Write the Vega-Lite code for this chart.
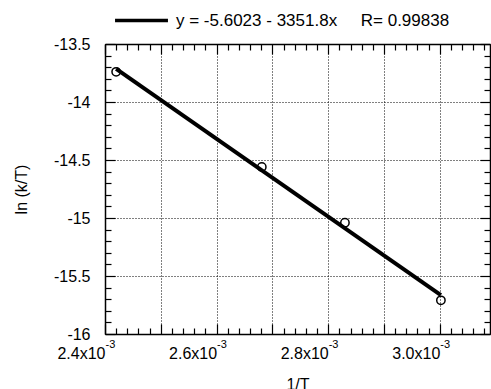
{
  "$schema": "https://vega.github.io/schema/vega-lite/v6.json",
  "width": 385,
  "height": 290,
  "autosize": {"type": "none"},
  "padding": {"left": 105, "top": 44, "right": 1, "bottom": 55},
  "background": "white",
  "config": {
    "view": {"stroke": null},
    "font": "Liberation Sans",
    "axis": {
      "domainColor": "black",
      "domainWidth": 1.5,
      "tickColor": "black",
      "tickWidth": 1.2,
      "gridColor": "black",
      "gridDash": [1, 2],
      "gridWidth": 1,
      "labelColor": "black",
      "labelFont": "Liberation Sans",
      "labelFontSize": 16,
      "titleColor": "black",
      "titleFont": "Liberation Sans",
      "titleFontSize": 16,
      "titleFontWeight": "normal"
    }
  },
  "datasets": {
    "pts": [
      {"invT": 0.00242, "lnkT": -13.74},
      {"invT": 0.002681, "lnkT": -14.56},
      {"invT": 0.00283, "lnkT": -15.04},
      {"invT": 0.003002, "lnkT": -15.71}
    ],
    "fit": [
      {"invT": 0.00242, "lnkT": -13.714, "series": "y = -5.6023 - 3351.8x\u00a0\u00a0\u00a0\u00a0\u00a0R= 0.99838"},
      {"invT": 0.003002, "lnkT": -15.664, "series": "y = -5.6023 - 3351.8x\u00a0\u00a0\u00a0\u00a0\u00a0R= 0.99838"}
    ]
  },
  "resolve": {"axis": {"x": "independent", "y": "independent"}},
  "layer": [
    {
      "data": {"name": "pts"},
      "mark": {"type": "point", "shape": "circle", "filled": false, "stroke": "black", "strokeWidth": 1.5, "size": 70, "opacity": 1},
      "encoding": {
        "x": {
          "field": "invT", "type": "quantitative",
          "scale": {"domain": [0.0024, 0.00309], "nice": false, "zero": false},
          "axis": {
            "orient": "bottom",
            "title": "1/T",
            "titlePadding": 11,
            "values": [0.0024, 0.00242, 0.00244, 0.00246, 0.00248, 0.0025, 0.00252, 0.00254, 0.00256, 0.00258, 0.0026, 0.00262, 0.00264, 0.00266, 0.00268, 0.0027, 0.00272, 0.00274, 0.00276, 0.00278, 0.0028, 0.00282, 0.00284, 0.00286, 0.00288, 0.0029, 0.00292, 0.00294, 0.00296, 0.00298, 0.003, 0.00302, 0.00304, 0.00306, 0.00308],
            "labelExpr": "round(datum.value*100000) % 20 == 0 ? format(datum.value*1000, '.1f') + 'x10' : ''",
            "labelPadding": 21,
            "labelAlign": "right",
            "labelDx": 19,
            "labelOverlap": false,
            "labelFlush": false,
            "tickSize": {"condition": {"test": "round(datum.value*100000) % 10 == 0", "value": -10}, "value": -6},
            "grid": true,
            "gridOpacity": {"condition": {"test": "round(datum.value*100000) % 10 == 0", "value": 1}, "value": 0}
          }
        },
        "y": {
          "field": "lnkT", "type": "quantitative",
          "scale": {"domain": [-16, -13.5], "nice": false, "zero": false},
          "axis": {
            "orient": "left",
            "title": "ln (k/T)",
            "titlePadding": 24,
            "values": [-16, -15.9, -15.8, -15.7, -15.6, -15.5, -15.4, -15.3, -15.2, -15.1, -15, -14.9, -14.8, -14.7, -14.6, -14.5, -14.4, -14.3, -14.2, -14.1, -14, -13.9, -13.8, -13.7, -13.6, -13.5],
            "labelExpr": "round(datum.value*10) % 5 == 0 ? '' + datum.value : ''",
            "labelPadding": 25,
            "labelOverlap": false,
            "labelFlush": false,
            "tickSize": {"condition": {"test": "round(datum.value*10) % 5 == 0", "value": -10}, "value": -6},
            "grid": true,
            "gridOpacity": {"condition": {"test": "round(datum.value*10) % 5 == 0", "value": 1}, "value": 0}
          }
        }
      }
    },
    {
      "data": {"name": "fit"},
      "mark": {"type": "line", "strokeWidth": 4},
      "encoding": {
        "x": {
          "field": "invT", "type": "quantitative",
          "scale": {"domain": [0.0024, 0.00309], "nice": false, "zero": false},
          "axis": {
            "orient": "top",
            "title": null,
            "labels": false,
            "grid": false,
            "values": [0.0024, 0.00242, 0.00244, 0.00246, 0.00248, 0.0025, 0.00252, 0.00254, 0.00256, 0.00258, 0.0026, 0.00262, 0.00264, 0.00266, 0.00268, 0.0027, 0.00272, 0.00274, 0.00276, 0.00278, 0.0028, 0.00282, 0.00284, 0.00286, 0.00288, 0.0029, 0.00292, 0.00294, 0.00296, 0.00298, 0.003, 0.00302, 0.00304, 0.00306, 0.00308],
            "tickSize": {"condition": {"test": "round(datum.value*100000) % 10 == 0", "value": -10}, "value": -6}
          }
        },
        "y": {
          "field": "lnkT", "type": "quantitative",
          "scale": {"domain": [-16, -13.5], "nice": false, "zero": false},
          "axis": {
            "orient": "right",
            "title": null,
            "labels": false,
            "grid": false,
            "values": [-16, -15.9, -15.8, -15.7, -15.6, -15.5, -15.4, -15.3, -15.2, -15.1, -15, -14.9, -14.8, -14.7, -14.6, -14.5, -14.4, -14.3, -14.2, -14.1, -14, -13.9, -13.8, -13.7, -13.6, -13.5],
            "tickSize": {"condition": {"test": "round(datum.value*10) % 5 == 0", "value": -10}, "value": -6}
          }
        },
        "color": {
          "field": "series", "type": "nominal",
          "scale": {"range": ["black"]},
          "legend": {
            "orient": "none",
            "legendX": 8,
            "legendY": -52,
            "title": null,
            "symbolType": "stroke",
            "symbolSize": 2800,
            "symbolStrokeWidth": 3.5,
            "labelFont": "Liberation Sans",
            "labelFontSize": 17,
            "labelColor": "black",
            "labelLimit": 0,
            "labelOffset": 6
          }
        }
      }
    },
    {
      "data": {"name": "pts"},
      "mark": {"type": "point", "opacity": 0},
      "encoding": {
        "x": {
          "field": "invT", "type": "quantitative",
          "scale": {"domain": [0.0024, 0.00309], "nice": false, "zero": false},
          "axis": {
            "orient": "bottom",
            "title": null,
            "values": [0.0024, 0.0026, 0.0028, 0.003],
            "labelExpr": "'-3'",
            "labelFontSize": 11,
            "labelAlign": "left",
            "labelPadding": 4,
            "labelDx": 20,
            "ticks": false,
            "domain": false,
            "grid": false,
            "labelOverlap": false,
            "labelFlush": false
          }
        },
        "y": {
          "field": "lnkT", "type": "quantitative",
          "scale": {"domain": [-16, -13.5], "nice": false, "zero": false},
          "axis": null
        }
      }
    }
  ]
}
